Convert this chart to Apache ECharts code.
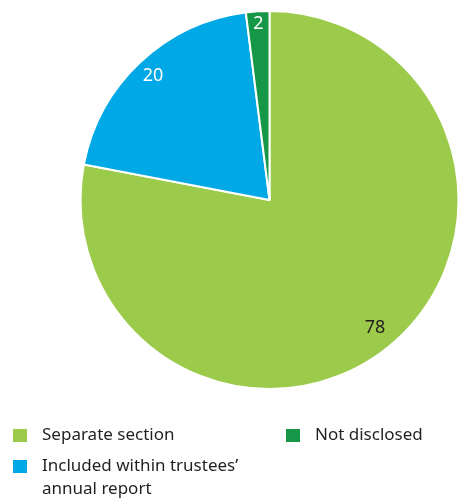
<!DOCTYPE html>
<html>
<head>
<meta charset="utf-8">
<script src="https://cdn.jsdelivr.net/npm/echarts@6/dist/echarts.min.js"></script>
<style>
  html, body { margin: 0; padding: 0; background: #ffffff; }
  #chart { width: 461px; height: 499px; }
</style>
</head>
<body>
<div id="chart"></div>
<script>
// Where the trustees' report appears (% of charities)
const categories = ['Separate section', 'Included within trustees\u2019\nannual report', 'Not disclosed'];
const values = [78, 20, 2];
const colors = ['#9cca4b', '#00a8e6', '#169647'];
const labelColors = ['#231f20', '#ffffff', '#ffffff'];

const FONT = '"Noto Sans", sans-serif';
const CENTER = [269.5, 200];
const R = 189;

const pieData = categories.map((name, i) => ({
  name,
  value: values[i],
  itemStyle: { color: colors[i] }
}));

// Transparent ring carrying the value labels; shown items are chosen per ring
function labelRing(inner, shown) {
  return {
    type: 'pie',
    silent: true,
    center: CENTER,
    radius: [inner, R],
    startAngle: 90,
    clockwise: true,
    legendHoverLink: false,
    data: categories.map((name, i) => ({
      name,
      value: values[i],
      itemStyle: { color: 'rgba(0,0,0,0)' },
      label: {
        show: shown.includes(i),
        position: 'inside',
        color: labelColors[i],
        fontFamily: FONT,
        fontSize: 18,
        formatter: String(values[i])
      }
    })),
    labelLine: { show: false },
    emphasis: { disabled: true },
    tooltip: { show: false }
  };
}

// One legend per entry; a wrapped entry gets a blank leading line so that
// its first text line sits level with the colour square
function legendEntry(name, left, top) {
  const wrapped = name.includes('\n');
  return {
    orient: 'vertical',
    left,
    top,
    padding: 0,
    itemWidth: 16,
    itemHeight: 15,
    icon: 'rect',
    selectedMode: false,
    formatter: (n) => (wrapped ? ' \n' + n : n),
    textStyle: {
      color: '#231f20',
      fontFamily: FONT,
      fontSize: 17,
      lineHeight: 23,
      padding: [0, 0, 0, 9]
    },
    data: [name]
  };
}

const option = {
  animation: false,
  legend: [
    legendEntry(categories[0], 11, 424),
    legendEntry(categories[1], 11, 432),
    legendEntry(categories[2], 284, 424)
  ],
  series: [
    {
      type: 'pie',
      center: CENTER,
      radius: [0, R],
      startAngle: 90,
      clockwise: true,
      data: pieData,
      itemStyle: { borderColor: '#ffffff', borderWidth: 2 },
      label: { show: false },
      labelLine: { show: false },
      emphasis: { disabled: true }
    },
    labelRing(0.72 * R, [0]),
    labelRing(0.77 * R, [1]),
    labelRing(0.84 * R, [2])
  ]
};

const chart = echarts.init(document.getElementById('chart'), null, { renderer: 'canvas' });
chart.setOption(option);
</script>
</body>
</html>
